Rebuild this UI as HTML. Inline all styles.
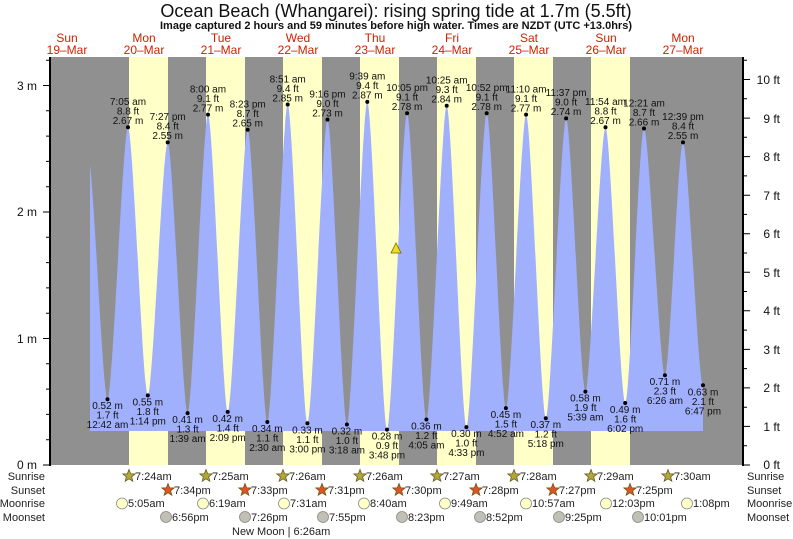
<!DOCTYPE html>
<html><head><meta charset="utf-8"><style>
html,body{margin:0;padding:0;background:#fff;}
svg{display:block;font-family:"Liberation Sans",sans-serif;}
.t text{font-size:10px;fill:#111;text-anchor:middle;}
.ax text{font-size:12px;fill:#111;}
.ft text{font-size:11px;fill:#222;}
.day text{font-size:12px;fill:#cc2200;text-anchor:middle;}
</style></head><body>
<svg width="793" height="539" viewBox="0 0 793 539" xmlns="http://www.w3.org/2000/svg">
<defs>
<clipPath id="cp"><rect x="90" y="57" width="652" height="374"/></clipPath>
<polygon id="st" points="0,-6.5 1.65,-2.27 6.18,-2.01 2.66,0.87 3.82,5.26 0,2.8 -3.82,5.26 -2.66,0.87 -6.18,-2.01 -1.65,-2.27" stroke="#6a5a20" stroke-width="0.8"/>
</defs>
<text x="396" y="17" font-size="18" text-anchor="middle" fill="#111">Ocean Beach (Whangarei): rising  spring tide at 1.7m (5.5ft)</text>
<text x="396" y="29" font-size="11" font-weight="bold" text-anchor="middle" fill="#111">Image captured 2 hours and 59 minutes before high water. Times are NZDT (UTC +13.0hrs)</text>
<g class="day">
<text x="67" y="42">Sun</text><text x="67" y="54">19–Mar</text>
<text x="144" y="42">Mon</text><text x="144" y="54">20–Mar</text>
<text x="221" y="42">Tue</text><text x="221" y="54">21–Mar</text>
<text x="298" y="42">Wed</text><text x="298" y="54">22–Mar</text>
<text x="375" y="42">Thu</text><text x="375" y="54">23–Mar</text>
<text x="452" y="42">Fri</text><text x="452" y="54">24–Mar</text>
<text x="529" y="42">Sat</text><text x="529" y="54">25–Mar</text>
<text x="606" y="42">Sun</text><text x="606" y="54">26–Mar</text>
<text x="683" y="42">Mon</text><text x="683" y="54">27–Mar</text>
</g>
<rect x="50" y="57" width="692" height="408" fill="#909090"/>
<g fill="#ffffc8">
<rect x="129" y="57" width="39" height="408"/>
<rect x="206" y="57" width="39" height="408"/>
<rect x="283" y="57" width="39" height="408"/>
<rect x="360" y="57" width="39" height="408"/>
<rect x="437" y="57" width="39" height="408"/>
<rect x="514" y="57" width="39" height="408"/>
<rect x="591" y="57" width="39" height="408"/>
</g>
<path fill="#a0b0fc" clip-path="url(#cp)" d="M88,431 L88,155 C93,155 102.5,399.2 107.5,399.2 S123,127.2 128,127.2 S142.8,395.4 147.8,395.4 S162.7,142.4 167.7,142.4 S182.6,413.1 187.6,413.1 S203,114.6 208,114.6 S222.7,411.9 227.7,411.9 S242.7,129.8 247.7,129.8 S262.3,422 267.3,422 S282.7,104.5 287.7,104.5 S302.4,423.3 307.4,423.3 S322.5,119.6 327.5,119.6 S341.9,424.5 346.9,424.5 S362.3,101.9 367.3,101.9 S382,429.6 387,429.6 S402.1,113.3 407.1,113.3 S421.4,419.5 426.4,419.5 S441.7,105.7 446.7,105.7 S461.4,427.1 466.4,427.1 S481.7,113.3 486.7,113.3 S500.9,408.1 505.9,408.1 S521.1,114.6 526.1,114.6 S540.8,418.2 545.8,418.2 S561.1,118.4 566.1,118.4 S580.4,391.6 585.4,391.6 S600.5,127.2 605.5,127.2 S620.2,403 625.2,403 S639,128.5 644,128.5 S659.9,375.2 664.9,375.2 S678,142.4 683,142.4 S698,385.3 703,385.3 L703,431 Z"/>
<polygon points="396,243 391,253 401,253" fill="#e8e020" stroke="#806000" stroke-width="0.8"/>
<g fill="#000">
<circle cx="128" cy="127.2" r="2"/><circle cx="167.7" cy="142.4" r="2"/><circle cx="208" cy="114.6" r="2"/><circle cx="247.7" cy="129.8" r="2"/><circle cx="287.7" cy="104.5" r="2"/><circle cx="327.5" cy="119.6" r="2"/><circle cx="367.3" cy="101.9" r="2"/><circle cx="407.1" cy="113.3" r="2"/><circle cx="446.7" cy="105.7" r="2"/><circle cx="486.7" cy="113.3" r="2"/><circle cx="526.1" cy="114.6" r="2"/><circle cx="566.1" cy="118.4" r="2"/><circle cx="605.5" cy="127.2" r="2"/><circle cx="644" cy="128.5" r="2"/><circle cx="683" cy="142.4" r="2"/>
<circle cx="107.5" cy="399.2" r="2"/><circle cx="147.8" cy="395.4" r="2"/><circle cx="187.6" cy="413.1" r="2"/><circle cx="227.7" cy="411.9" r="2"/><circle cx="267.3" cy="422" r="2"/><circle cx="307.4" cy="423.3" r="2"/><circle cx="346.9" cy="424.5" r="2"/><circle cx="387" cy="429.6" r="2"/><circle cx="426.4" cy="419.5" r="2"/><circle cx="466.4" cy="427.1" r="2"/><circle cx="505.9" cy="408.1" r="2"/><circle cx="545.8" cy="418.2" r="2"/><circle cx="585.4" cy="391.6" r="2"/><circle cx="625.2" cy="403" r="2"/><circle cx="664.9" cy="375.2" r="2"/><circle cx="703" cy="385.3" r="2"/>
</g>
<g class="t">
<text x="128" y="105">7:05 am</text><text x="128" y="114.5">8.8 ft</text><text x="128" y="124">2.67 m</text>
<text x="167.7" y="120.2">7:27 pm</text><text x="167.7" y="129.7">8.4 ft</text><text x="167.7" y="139.2">2.55 m</text>
<text x="208" y="92.4">8:00 am</text><text x="208" y="101.9">9.1 ft</text><text x="208" y="111.4">2.77 m</text>
<text x="247.7" y="107.6">8:23 pm</text><text x="247.7" y="117.1">8.7 ft</text><text x="247.7" y="126.6">2.65 m</text>
<text x="287.7" y="82.3">8:51 am</text><text x="287.7" y="91.8">9.4 ft</text><text x="287.7" y="101.3">2.85 m</text>
<text x="327.5" y="97.4">9:16 pm</text><text x="327.5" y="106.9">9.0 ft</text><text x="327.5" y="116.4">2.73 m</text>
<text x="367.3" y="79.7">9:39 am</text><text x="367.3" y="89.2">9.4 ft</text><text x="367.3" y="98.7">2.87 m</text>
<text x="407.1" y="91.1">10:05 pm</text><text x="407.1" y="100.6">9.1 ft</text><text x="407.1" y="110.1">2.78 m</text>
<text x="446.7" y="83.5">10:25 am</text><text x="446.7" y="93">9.3 ft</text><text x="446.7" y="102.5">2.84 m</text>
<text x="486.7" y="91.1">10:52 pm</text><text x="486.7" y="100.6">9.1 ft</text><text x="486.7" y="110.1">2.78 m</text>
<text x="526.1" y="92.4">11:10 am</text><text x="526.1" y="101.9">9.1 ft</text><text x="526.1" y="111.4">2.77 m</text>
<text x="566.1" y="96.2">11:37 pm</text><text x="566.1" y="105.7">9.0 ft</text><text x="566.1" y="115.2">2.74 m</text>
<text x="605.5" y="105">11:54 am</text><text x="605.5" y="114.5">8.8 ft</text><text x="605.5" y="124">2.67 m</text>
<text x="644" y="106.3">12:21 am</text><text x="644" y="115.8">8.7 ft</text><text x="644" y="125.3">2.66 m</text>
<text x="683" y="120.2">12:39 pm</text><text x="683" y="129.7">8.4 ft</text><text x="683" y="139.2">2.55 m</text>

<text x="107.5" y="409.2">0.52 m</text><text x="107.5" y="418.7">1.7 ft</text><text x="107.5" y="428.2">12:42 am</text>
<text x="147.8" y="405.4">0.55 m</text><text x="147.8" y="414.9">1.8 ft</text><text x="147.8" y="424.4">1:14 pm</text>
<text x="187.6" y="423.1">0.41 m</text><text x="187.6" y="432.6">1.3 ft</text><text x="187.6" y="442.1">1:39 am</text>
<text x="227.7" y="421.9">0.42 m</text><text x="227.7" y="431.4">1.4 ft</text><text x="227.7" y="440.9">2:09 pm</text>
<text x="267.3" y="432">0.34 m</text><text x="267.3" y="441.5">1.1 ft</text><text x="267.3" y="451">2:30 am</text>
<text x="307.4" y="433.3">0.33 m</text><text x="307.4" y="442.8">1.1 ft</text><text x="307.4" y="452.3">3:00 pm</text>
<text x="346.9" y="434.5">0.32 m</text><text x="346.9" y="444">1.0 ft</text><text x="346.9" y="453.5">3:18 am</text>
<text x="387" y="439.6">0.28 m</text><text x="387" y="449.1">0.9 ft</text><text x="387" y="458.6">3:48 pm</text>
<text x="426.4" y="429.5">0.36 m</text><text x="426.4" y="439">1.2 ft</text><text x="426.4" y="448.5">4:05 am</text>
<text x="466.4" y="437.1">0.30 m</text><text x="466.4" y="446.6">1.0 ft</text><text x="466.4" y="456.1">4:33 pm</text>
<text x="505.9" y="418.1">0.45 m</text><text x="505.9" y="427.6">1.5 ft</text><text x="505.9" y="437.1">4:52 am</text>
<text x="545.8" y="428.2">0.37 m</text><text x="545.8" y="437.7">1.2 ft</text><text x="545.8" y="447.2">5:18 pm</text>
<text x="585.4" y="401.6">0.58 m</text><text x="585.4" y="411.1">1.9 ft</text><text x="585.4" y="420.6">5:39 am</text>
<text x="625.2" y="413">0.49 m</text><text x="625.2" y="422.5">1.6 ft</text><text x="625.2" y="432">6:02 pm</text>
<text x="664.9" y="385.2">0.71 m</text><text x="664.9" y="394.7">2.3 ft</text><text x="664.9" y="404.2">6:26 am</text>
<text x="703" y="395.3">0.63 m</text><text x="703" y="404.8">2.1 ft</text><text x="703" y="414.3">6:47 pm</text>
</g>
<g stroke="#000" stroke-width="1">
<line x1="50" y1="57" x2="50" y2="466" stroke-width="2"/>
<line x1="743" y1="57" x2="743" y2="466" stroke-width="2"/>
<path d="M43,465H50 M46,439.7H50 M46,414.4H50 M46,389.1H50 M46,363.8H50 M43,338.5H50 M46,313.2H50 M46,287.9H50 M46,262.6H50 M46,237.3H50 M43,212H50 M46,186.7H50 M46,161.4H50 M46,136.1H50 M46,110.8H50 M43,85.5H50 M46,60.2H50"/>
<path d="M743,465H750 M743,445.7H747 M743,426.4H750 M743,407.2H747 M743,387.9H750 M743,368.6H747 M743,349.4H750 M743,330.1H747 M743,310.8H750 M743,291.5H747 M743,272.2H750 M743,253H747 M743,233.7H750 M743,214.4H747 M743,195.2H750 M743,175.9H747 M743,156.6H750 M743,137.3H747 M743,118.1H750 M743,98.8H747 M743,79.5H750 M743,60.2H747"/>
</g>
<g class="ax">
<text x="37" y="469" text-anchor="end">0 m</text>
<text x="37" y="343" text-anchor="end">1 m</text>
<text x="37" y="216" text-anchor="end">2 m</text>
<text x="37" y="90" text-anchor="end">3 m</text>
<text x="780" y="469" text-anchor="end">0 ft</text>
<text x="780" y="431" text-anchor="end">1 ft</text>
<text x="780" y="392" text-anchor="end">2 ft</text>
<text x="780" y="354" text-anchor="end">3 ft</text>
<text x="780" y="315" text-anchor="end">4 ft</text>
<text x="780" y="277" text-anchor="end">5 ft</text>
<text x="780" y="238" text-anchor="end">6 ft</text>
<text x="780" y="200" text-anchor="end">7 ft</text>
<text x="780" y="161" text-anchor="end">8 ft</text>
<text x="780" y="123" text-anchor="end">9 ft</text>
<text x="780" y="84" text-anchor="end">10 ft</text>
</g>
<g fill="#b0a838">
<use href="#st" x="129" y="476"/><use href="#st" x="206" y="476"/><use href="#st" x="283" y="476"/><use href="#st" x="360" y="476"/><use href="#st" x="437" y="476"/><use href="#st" x="514" y="476"/><use href="#st" x="591" y="476"/><use href="#st" x="668" y="476"/>
</g>
<g fill="#dd5522">
<use href="#st" x="168" y="490"/><use href="#st" x="245" y="490"/><use href="#st" x="322" y="490"/><use href="#st" x="399" y="490"/><use href="#st" x="476" y="490"/><use href="#st" x="553" y="490"/><use href="#st" x="630" y="490"/>
</g>
<g fill="#ffffc8" stroke="#888" stroke-width="0.8">
<circle cx="122" cy="503.5" r="5.5"/><circle cx="203" cy="503.5" r="5.5"/><circle cx="284" cy="503.5" r="5.5"/><circle cx="364" cy="503.5" r="5.5"/><circle cx="445" cy="503.5" r="5.5"/><circle cx="526" cy="503.5" r="5.5"/><circle cx="606" cy="503.5" r="5.5"/><circle cx="687" cy="503.5" r="5.5"/>
</g>
<g fill="#c0c0b4" stroke="#888" stroke-width="0.8">
<circle cx="166" cy="517" r="5.5"/><circle cx="245" cy="517" r="5.5"/><circle cx="323" cy="517" r="5.5"/><circle cx="402" cy="517" r="5.5"/><circle cx="480" cy="517" r="5.5"/><circle cx="559" cy="517" r="5.5"/><circle cx="638" cy="517" r="5.5"/>
</g>
<g class="ft">
<text x="45" y="480" text-anchor="end">Sunrise</text>
<text x="45" y="494" text-anchor="end">Sunset</text>
<text x="45" y="507" text-anchor="end">Moonrise</text>
<text x="45" y="521" text-anchor="end">Moonset</text>
<text x="747" y="480">Sunrise</text>
<text x="747" y="494">Sunset</text>
<text x="747" y="507">Moonrise</text>
<text x="747" y="521">Moonset</text>
<text x="232" y="535" font-size="10">New Moon | 6:26am</text>
<text x="135" y="480">7:24am</text><text x="212" y="480">7:25am</text><text x="289" y="480">7:26am</text><text x="366" y="480">7:26am</text><text x="443" y="480">7:27am</text><text x="520" y="480">7:28am</text><text x="597" y="480">7:29am</text><text x="674" y="480">7:30am</text>
<text x="174" y="494">7:34pm</text><text x="251" y="494">7:33pm</text><text x="328" y="494">7:31pm</text><text x="405" y="494">7:30pm</text><text x="482" y="494">7:28pm</text><text x="559" y="494">7:27pm</text><text x="636" y="494">7:25pm</text>
<text x="128" y="507">5:05am</text><text x="209" y="507">6:19am</text><text x="290" y="507">7:31am</text><text x="370" y="507">8:40am</text><text x="451" y="507">9:49am</text><text x="532" y="507">10:57am</text><text x="612" y="507">12:03pm</text><text x="693" y="507">1:08pm</text>
<text x="172" y="521">6:56pm</text><text x="251" y="521">7:26pm</text><text x="329" y="521">7:55pm</text><text x="408" y="521">8:23pm</text><text x="486" y="521">8:52pm</text><text x="565" y="521">9:25pm</text><text x="644" y="521">10:01pm</text>
</g>
</svg>
</body></html>
